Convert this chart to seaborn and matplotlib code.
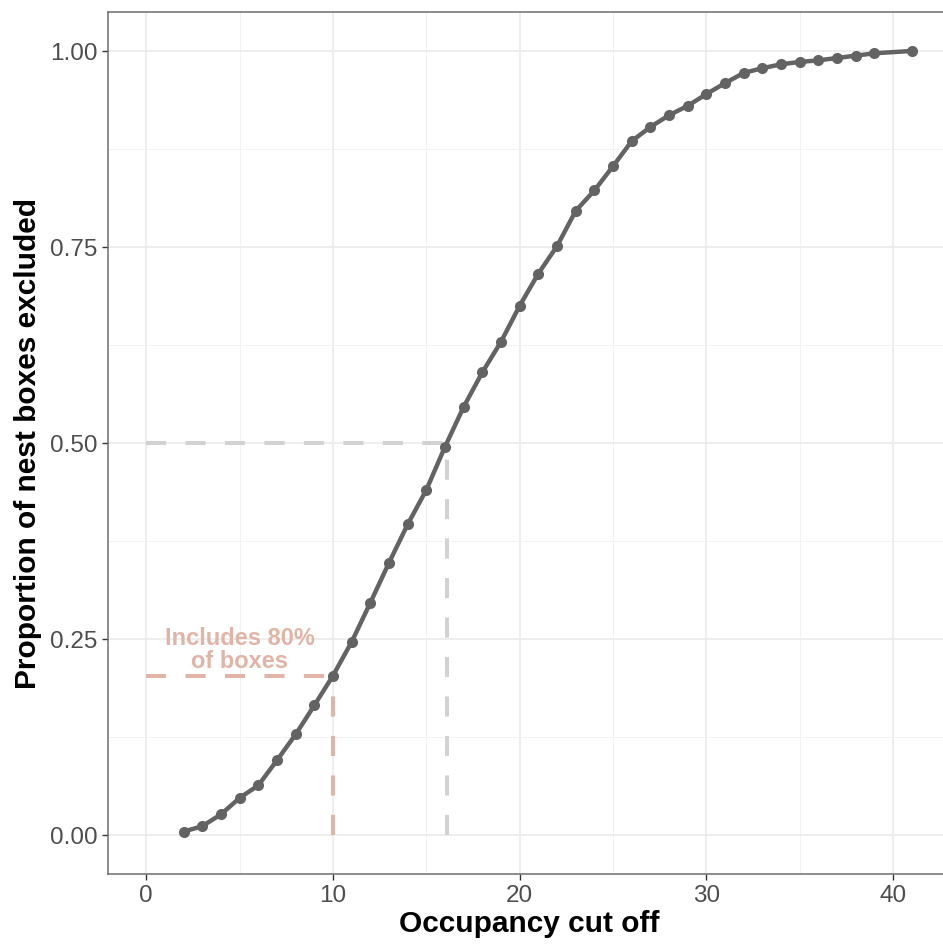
import numpy as np
import pandas as pd
import matplotlib
matplotlib.use("Agg")
import matplotlib.pyplot as plt
import seaborn as sns

# ---- data ----
cutoff = [2, 3, 4, 5, 6, 7, 8, 9, 10, 11, 12, 13, 14, 15, 16, 17, 18, 19, 20,
          21, 22, 23, 24, 25, 26, 27, 28, 29, 30, 31, 32, 33, 34, 35, 36, 37,
          38, 39, 41]
proportion = [0.004, 0.011, 0.026, 0.047, 0.063, 0.095, 0.128, 0.165, 0.203,
              0.246, 0.296, 0.347, 0.396, 0.440, 0.495, 0.546, 0.590, 0.629,
              0.675, 0.716, 0.751, 0.796, 0.822, 0.853, 0.885, 0.903, 0.918,
              0.930, 0.945, 0.959, 0.972, 0.978, 0.983, 0.986, 0.988, 0.991,
              0.994, 0.997, 1.000]
ref_cutoff_80 = 10
ref_prop_50 = 0.5
annotation = "Includes 80%\nof boxes"
x_ticks = [0, 10, 20, 30, 40]
y_ticks = [0.00, 0.25, 0.50, 0.75, 1.00]
y_tick_labels = ["0.00", "0.25", "0.50", "0.75", "1.00"]

df = pd.DataFrame({"cutoff": cutoff, "proportion": proportion})

sns.set_theme(style="white")
plt.rcParams["font.family"] = ["Liberation Sans", "DejaVu Sans"]

fig = plt.figure(figsize=(9.43, 9.45), dpi=100)
ax = fig.add_axes([0.1145, 0.0741, 0.893, 0.9124])

line_col = "#636363"
salmon = "#E0B4A6"
grey_dash = "#D2D2D2"

# reference lines
y80 = float(np.interp(ref_cutoff_80, cutoff, proportion))
x50 = float(np.interp(ref_prop_50, proportion, cutoff))
dash_kw = dict(lw=2.9, dashes=(5, 4.8), solid_capstyle="butt", dash_capstyle="butt", zorder=2)
ax.plot([0, x50], [ref_prop_50, ref_prop_50], color=grey_dash, **dash_kw)
ax.plot([x50, x50], [0, ref_prop_50], color=grey_dash, **dash_kw)
ax.plot([0, ref_cutoff_80], [y80, y80], color=salmon, **dash_kw)
ax.plot([ref_cutoff_80, ref_cutoff_80], [0, y80], color=salmon, **dash_kw)

sns.lineplot(data=df, x="cutoff", y="proportion", ax=ax, color=line_col,
             lw=3.2, marker="o", markersize=8, markeredgewidth=0,
             zorder=3)

ax.text(5, 0.2375, annotation, ha="center", va="center", color=salmon,
        fontsize=17, fontweight="bold", linespacing=1.0, zorder=4)

ax.set_xlim(-2.05, 43.05)
ax.set_ylim(-0.05, 1.05)
ax.set_xticks(x_ticks)
ax.set_yticks(y_ticks)
ax.set_yticklabels(y_tick_labels)
ax.set_xticks([5, 15, 25, 35], minor=True)
ax.set_yticks([0.125, 0.375, 0.625, 0.875], minor=True)
ax.grid(True, which="major", color="#EBEBEB", lw=1.2, zorder=0)
ax.grid(True, which="minor", color="#F2F2F2", lw=0.7, zorder=0)
ax.set_axisbelow(True)

for s in ax.spines.values():
    s.set_color("#6E6E6E")
    s.set_linewidth(1.1)

ax.tick_params(axis="both", which="major", length=4.5, width=1.0, color="#333333",
               labelcolor="#4D4D4D", labelsize=17.5, pad=3, direction="out",
               bottom=True, left=True)
ax.tick_params(which="minor", length=0)

ax.set_xlabel("Occupancy cut off", fontsize=21.5, fontweight="bold", color="black", labelpad=2)
ax.set_ylabel("Proportion of nest boxes excluded", fontsize=21.5, fontweight="bold", color="black", labelpad=6)

fig.savefig("out.png", dpi=100)
